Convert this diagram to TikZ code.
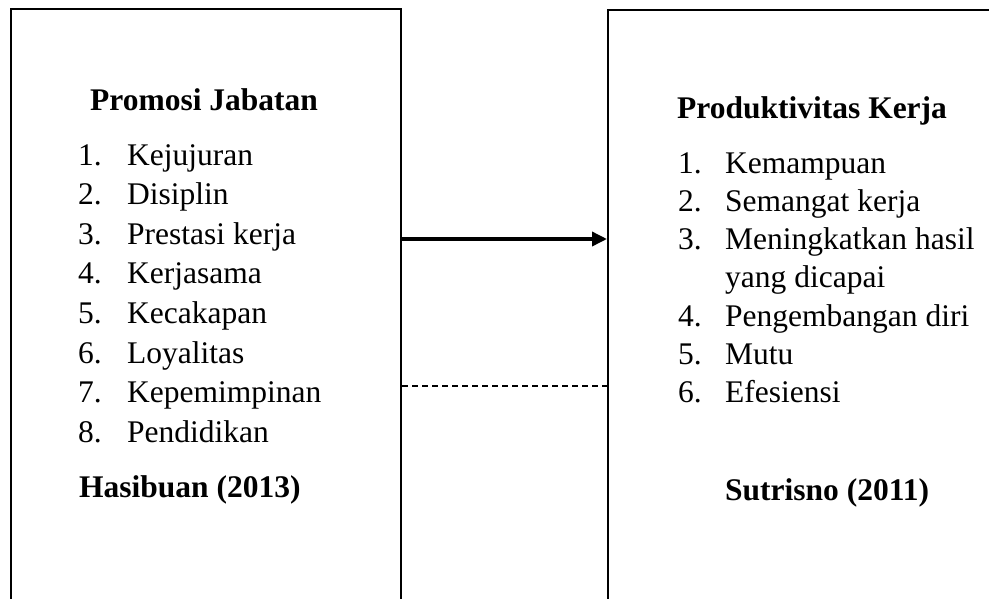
\documentclass[tikz,border=0pt]{standalone}
\usepackage{fontspec}
\setmainfont{Liberation Serif}
\usetikzlibrary{arrows.meta}
\tikzset{
  box/.style={draw, line width=2.4pt, rectangle, inner sep=0pt, anchor=north west},
  head/.style={anchor=base west, inner sep=0pt, font=\bfseries\fontsize{31.5}{38}\selectfont},
  item/.style={anchor=base west, inner sep=0pt, font=\fontsize{31.5}{38}\selectfont},
  conn/.style={line width=3.5pt, -{Triangle[length=15pt,width=14pt]}},
  dashconn/.style={line width=2pt, dash pattern=on 6pt off 4pt},
}
\begin{document}
\begin{tikzpicture}[x=1pt,y=-1pt]
\useasboundingbox (0,0) rectangle (989,598);
\clip (0,0) rectangle (989,598);
\fill[white] (0,0) rectangle (989,598);
% boxes
\node[box, minimum width=390pt, minimum height=640pt] (lbox) at (10,8) {};
\node[box, minimum width=420pt, minimum height=640pt] (rbox) at (607,9) {};
% left texts
\node[head] (lh) at (90,110) {Promosi Jabatan};
\foreach \i/\t in {1/Kejujuran,2/Disiplin,3/Prestasi kerja,4/Kerjasama,5/Kecakapan,6/Loyalitas,7/Kepemimpinan,8/Pendidikan}{
  \node[item] (ln\i) at (78,{165+39.6*(\i-1)}) {\i.};
  \node[item] (lt\i) at (127,{165+39.6*(\i-1)}) {\t};
}
\node[head] (lf) at (79,497) {Hasibuan (2013)};
% right texts
\node[head] (rh) at (677,118) {Produktivitas Kerja};
\foreach \i/\k/\t in {1/0/Kemampuan,2/1/Semangat kerja,3/2/Meningkatkan hasil,4/4/Pengembangan diri,5/5/Mutu,6/6/Efesiensi}{
  \node[item] (rn\i) at (678,{173+38.3*\k}) {\i.};
  \node[item] (rt\i) at (725,{173+38.3*\k}) {\t};
}
\node[item] (rt3b) at (725,{173+38.3*3}) {yang dicapai};
\node[head] (rf) at (725,500) {Sutrisno (2011)};
% connectors
\coordinate (ay) at (0,239);
\coordinate (dy) at (0,386);
\draw[conn] (lbox.east |- ay) -- (rbox.west |- ay);
\draw[dashconn] (lbox.east |- dy) -- (rbox.west |- dy);
\end{tikzpicture}
\end{document}
